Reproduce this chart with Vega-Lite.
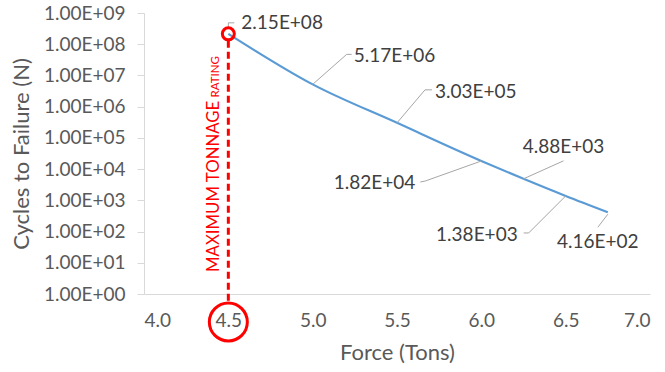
{
  "$schema": "https://vega.github.io/schema/vega-lite/v6.json",
  "width": 506,
  "height": 281,
  "autosize": {"type": "none"},
  "padding": {"left": 144, "top": 13, "right": 15, "bottom": 78},
  "background": "white",
  "config": {
    "view": {"stroke": null},
    "font": "Lato",
    "text": {"font": "Lato"},
    "axis": {"grid": false, "labelFont": "Lato", "titleFont": "Lato", "labelColor": "#595959", "titleColor": "#595959", "domainColor": "#d9d9d9", "tickColor": "#d9d9d9", "titleFontWeight": "normal", "labelFontSize": 19, "titleFontSize": 22}
  },
  "datasets": {
    "curve": [
      {"force": 4.5, "cycles": 215000000, "label": "2.15E+08"},
      {"force": 5.0, "cycles": 5170000, "label": "5.17E+06"},
      {"force": 5.5, "cycles": 303000, "label": "3.03E+05"},
      {"force": 6.0, "cycles": 18200, "label": "1.82E+04"},
      {"force": 6.25, "cycles": 4880, "label": "4.88E+03"},
      {"force": 6.5, "cycles": 1380, "label": "1.38E+03"},
      {"force": 6.75, "cycles": 416, "label": "4.16E+02"}
    ],
    "ann": [{"force": 4.5, "cycles": 215000000, "note": "MAXIMUM TONNAGE", "note2": "RATING"}]
  },
  "data": {"name": "curve"},
  "encoding": {
    "x": {"field": "force", "type": "quantitative", "scale": {"domain": [4, 7], "nice": false, "zero": false},
      "axis": {"title": "Force (Tons)", "values": [4, 4.5, 5, 5.5, 6, 6.5, 7], "format": ".1f", "ticks": false, "labelPadding": 17, "titlePadding": 12}},
    "y": {"field": "cycles", "type": "quantitative", "scale": {"type": "log", "domain": [1, 1000000000], "nice": false},
      "axis": {"title": "Cycles to Failure (N)", "values": [1, 10, 100, 1000, 10000, 100000, 1000000, 10000000, 100000000, 1000000000],
        "labelExpr": "'1.00E+0' + format(log(datum.value)/LN10, '.0f')", "tickSize": 7, "labelPadding": 12, "titlePadding": 10}}
  },
  "layer": [
    {"mark": {"type": "line", "color": "#5b9bd5", "strokeWidth": 2.2, "interpolate": "monotone"}, "encoding": {}},
    {"transform": [{"filter": "datum.force == 4.5"}], "layer": [
      {"mark": {"type": "rule", "color": "#a6a6a6", "strokeWidth": 1, "yOffset": -5, "y2Offset": -11}, "encoding": {"x2": {"field": "force"}, "y2": {"field": "cycles"}}},
      {"mark": {"type": "rule", "color": "#a6a6a6", "strokeWidth": 1, "yOffset": -11, "y2Offset": -11, "x2Offset": 6}, "encoding": {"x2": {"field": "force"}, "y2": {"field": "cycles"}}},
      {"mark": {"type": "text", "align": "left", "baseline": "middle", "dx": 13, "dy": -11, "fontSize": 19, "color": "#404040"}, "encoding": {"text": {"field": "label"}}}
    ]},
    {"transform": [{"filter": "datum.force == 5"}], "layer": [
      {"mark": {"type": "rule", "color": "#a6a6a6", "strokeWidth": 1, "x2Offset": 34, "y2Offset": -30}, "encoding": {"x2": {"field": "force"}, "y2": {"field": "cycles"}}},
      {"mark": {"type": "rule", "color": "#a6a6a6", "strokeWidth": 1, "xOffset": 34, "yOffset": -30, "x2Offset": 39, "y2Offset": -30}, "encoding": {"x2": {"field": "force"}, "y2": {"field": "cycles"}}},
      {"mark": {"type": "text", "align": "left", "baseline": "middle", "dx": 41, "dy": -28, "fontSize": 19, "color": "#404040"}, "encoding": {"text": {"field": "label"}}}
    ]},
    {"transform": [{"filter": "datum.force == 5.5"}], "layer": [
      {"mark": {"type": "rule", "color": "#a6a6a6", "strokeWidth": 1, "x2Offset": 28, "y2Offset": -33}, "encoding": {"x2": {"field": "force"}, "y2": {"field": "cycles"}}},
      {"mark": {"type": "rule", "color": "#a6a6a6", "strokeWidth": 1, "xOffset": 28, "yOffset": -33, "x2Offset": 35, "y2Offset": -33}, "encoding": {"x2": {"field": "force"}, "y2": {"field": "cycles"}}},
      {"mark": {"type": "text", "align": "left", "baseline": "middle", "dx": 38, "dy": -31, "fontSize": 19, "color": "#404040"}, "encoding": {"text": {"field": "label"}}}
    ]},
    {"transform": [{"filter": "datum.force == 6"}], "layer": [
      {"mark": {"type": "rule", "color": "#a6a6a6", "strokeWidth": 1, "x2Offset": -56, "y2Offset": 20}, "encoding": {"x2": {"field": "force"}, "y2": {"field": "cycles"}}},
      {"mark": {"type": "rule", "color": "#a6a6a6", "strokeWidth": 1, "xOffset": -56, "yOffset": 20, "x2Offset": -61, "y2Offset": 21}, "encoding": {"x2": {"field": "force"}, "y2": {"field": "cycles"}}},
      {"mark": {"type": "text", "align": "right", "baseline": "middle", "dx": -66, "dy": 22, "fontSize": 19, "color": "#404040"}, "encoding": {"text": {"field": "label"}}}
    ]},
    {"transform": [{"filter": "datum.force == 6.25"}], "layer": [
      {"mark": {"type": "rule", "color": "#a6a6a6", "strokeWidth": 1, "x2Offset": 40, "y2Offset": -18}, "encoding": {"x2": {"field": "force"}, "y2": {"field": "cycles"}}},
      {"mark": {"type": "text", "align": "center", "baseline": "middle", "dx": 40, "dy": -32, "fontSize": 19, "color": "#404040"}, "encoding": {"text": {"field": "label"}}}
    ]},
    {"transform": [{"filter": "datum.force == 6.5"}], "layer": [
      {"mark": {"type": "rule", "color": "#a6a6a6", "strokeWidth": 1, "x2Offset": -37, "y2Offset": 37}, "encoding": {"x2": {"field": "force"}, "y2": {"field": "cycles"}}},
      {"mark": {"type": "rule", "color": "#a6a6a6", "strokeWidth": 1, "xOffset": -37, "yOffset": 37, "x2Offset": -42, "y2Offset": 37}, "encoding": {"x2": {"field": "force"}, "y2": {"field": "cycles"}}},
      {"mark": {"type": "text", "align": "right", "baseline": "middle", "dx": -48, "dy": 39, "fontSize": 19, "color": "#404040"}, "encoding": {"text": {"field": "label"}}}
    ]},
    {"transform": [{"filter": "datum.force == 6.75"}], "layer": [
      {"mark": {"type": "rule", "color": "#a6a6a6", "strokeWidth": 1, "yOffset": 2, "x2Offset": -10, "y2Offset": 15}, "encoding": {"x2": {"field": "force"}, "y2": {"field": "cycles"}}},
      {"mark": {"type": "text", "align": "center", "baseline": "middle", "dx": -10, "dy": 30, "fontSize": 19, "color": "#404040"}, "encoding": {"text": {"field": "label"}}}
    ]},
    {"data": {"name": "ann"}, "layer": [
      {"mark": {"type": "rule", "color": "#ff0000", "strokeWidth": 3, "strokeDash": [7, 4], "yOffset": 7, "y2Offset": 8}, "encoding": {"y2": {"datum": 1}}},
      {"mark": {"type": "point", "shape": "circle", "filled": false, "color": "#ff0000", "strokeWidth": 3, "size": 144, "opacity": 1}, "encoding": {}},
      {"mark": {"type": "point", "shape": "circle", "filled": false, "color": "#ff0000", "strokeWidth": 3, "size": 1444, "opacity": 1, "yOffset": 28}, "encoding": {"y": {"datum": 1}}},
      {"mark": {"type": "text", "angle": 270, "align": "left", "baseline": "middle", "xOffset": -14.5, "yOffset": -22, "fontSize": 16.8, "color": "#ff0000"}, "encoding": {"y": {"datum": 1}, "text": {"field": "note"}}},
      {"mark": {"type": "text", "angle": 270, "align": "right", "baseline": "middle", "xOffset": -12.5, "yOffset": 43, "fontSize": 11.5, "color": "#ff0000"}, "encoding": {"y": {"datum": 1000000000}, "text": {"field": "note2"}}}
    ]}
  ]
}
